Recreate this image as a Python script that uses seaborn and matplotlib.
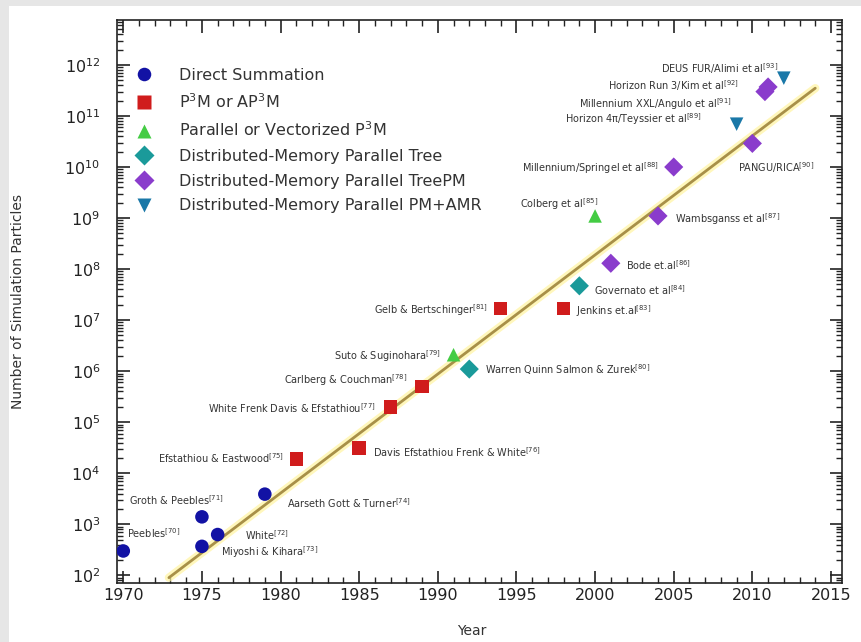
import numpy as np
import pandas as pd
import matplotlib
matplotlib.use("Agg")
import matplotlib.pyplot as plt
import seaborn as sns
from matplotlib.ticker import MultipleLocator, LogLocator
from matplotlib.patches import Rectangle

sns.set_theme(style="ticks")
plt.rcParams['font.family'] = ['DejaVu Sans']

# Data
methods = ["Direct Summation",
           "P$^3$M or AP$^3$M",
           "Parallel or Vectorized P$^3$M",
           "Distributed-Memory Parallel Tree",
           "Distributed-Memory Parallel TreePM",
           "Distributed-Memory Parallel PM+AMR"]

years = [1970, 1975, 1975, 1976, 1979,
         1981, 1985, 1987, 1989, 1994, 1998,
         1991, 2000,
         1992, 1999,
         2001, 2004, 2005, 2010, 2010.8, 2011,
         2009, 2012]

particles = [3.0e2, 1.4e3, 3.7e2, 6.3e2, 3.9e3,
             1.9e4, 3.1e4, 2.0e5, 5.0e5, 1.7e7, 1.7e7,
             2.1e6, 1.1e9,
             1.1e6, 4.7e7,
             1.3e8, 1.1e9, 1.0e10, 2.9e10, 3.0e11, 3.7e11,
             6.9e10, 5.5e11]

method_idx = [0, 0, 0, 0, 0,
              1, 1, 1, 1, 1, 1,
              2, 2,
              3, 3,
              4, 4, 4, 4, 4, 4,
              5, 5]

names = ["Peebles$^{[70]}$",
         "Groth & Peebles$^{[71]}$",
         "Miyoshi & Kihara$^{[73]}$",
         "White$^{[72]}$",
         "Aarseth Gott & Turner$^{[74]}$",
         "Efstathiou & Eastwood$^{[75]}$",
         "Davis Efstathiou Frenk & White$^{[76]}$",
         "White Frenk Davis & Efstathiou$^{[77]}$",
         "Carlberg & Couchman$^{[78]}$",
         "Gelb & Bertschinger$^{[81]}$",
         "Jenkins et.al$^{[83]}$",
         "Suto & Suginohara$^{[79]}$",
         "Colberg et al$^{[85]}$",
         "Warren Quinn Salmon & Zurek$^{[80]}$",
         "Governato et al$^{[84]}$",
         "Bode et.al$^{[86]}$",
         "Wambsganss et al$^{[87]}$",
         "Millennium/Springel et al$^{[88]}$",
         "PANGU/RICA$^{[90]}$",
         "Millennium XXL/Angulo et al$^{[91]}$",
         "Horizon Run 3/Kim et al$^{[92]}$",
         "Horizon 4\u03c0/Teyssier et al$^{[89]}$",
         "DEUS FUR/Alimi et al$^{[93]}$"]

# label offsets (pixels) and alignment
offsets = [(4, 18), (-73, 17), (19, -6), (27, -1), (22, -9),
           (-12, 1), (14, -4), (-15, -1), (-15, 6), (-13, -2), (12, -3),
           (-12, -1), (3, 12),
           (16, -1), (15, -4),
           (15, -2), (17, -3), (-15, -1), (-14, -24), (-33, -12), (-29, 1),
           (-35, 5), (-6, 10)]
aligns = ["left", "left", "left", "left", "left",
          "right", "left", "right", "right", "right", "left",
          "right", "right",
          "left", "left",
          "left", "left", "right", "left", "right", "right",
          "right", "right"]

trend_years = [1972.9, 2014.0]
trend_values = [9.0e1, 3.5e11]

df = pd.DataFrame({"Year": years,
                   "Particles": particles,
                   "Method": [methods[i] for i in method_idx]})

colors = ["#1212a4", "#d01c1c", "#44cc44", "#1a9a9a", "#8a3ccc", "#1a78a8"]
marks = ["o", "s", "^", "D", "D", "v"]
palette = dict(zip(methods, colors))
markers = dict(zip(methods, marks))

fig = plt.figure(figsize=(8.62, 6.42), dpi=100)
fig.patch.set_facecolor("#e6e6e6")
bg = Rectangle((9 / 862, 0), 1, 1 - 6 / 642, transform=fig.transFigure,
               facecolor="white", edgecolor="none", zorder=-10)
fig.add_artist(bg)
ax = fig.add_axes([117 / 862, 1 - 583 / 642, 725 / 862, 563 / 642])
ax.set_facecolor("white")
ax.set_yscale("log")

# trend line with a soft glow
ax.plot(trend_years, trend_values, color="#fff4a0", lw=6, alpha=0.7, zorder=1)
ax.plot(trend_years, trend_values, color="#a89048", lw=2, zorder=2)

sns.scatterplot(data=df, x="Year", y="Particles", hue="Method", style="Method",
                hue_order=methods, style_order=methods,
                palette=palette, markers=markers, s=95, edgecolor="none",
                ax=ax, zorder=3)

for x, y, t, off, ha in zip(years, particles, names, offsets, aligns):
    ax.annotate(t, (x, y), xytext=off, textcoords="offset pixels",
                ha=ha, va="center", fontsize=7, color="#333333")

ax.set_xlim(1969.6, 2015.7)
ax.set_ylim(10 ** 1.85, 10 ** 12.88)
ax.xaxis.set_major_locator(MultipleLocator(5))
ax.xaxis.set_minor_locator(MultipleLocator(1))
ax.yaxis.set_major_locator(LogLocator(base=10, numticks=20))
ax.yaxis.set_minor_locator(LogLocator(base=10, subs=np.arange(2, 10), numticks=20))
ax.tick_params(which="both", direction="in", top=True, right=True, labelsize=11.5,
               colors="#222222")
ax.tick_params(which="major", length=9, width=1.2)
ax.tick_params(which="minor", length=4, width=1)
ax.tick_params(axis="y", which="major", pad=12)
for sp in ax.spines.values():
    sp.set_color("#222222")
    sp.set_linewidth(1.2)

ax.set_xlabel("Year", fontsize=10, color="#333333", va="center")
ax.xaxis.set_label_coords(0.49, -0.085)
ax.set_ylabel("Number of Simulation Particles", fontsize=10, color="#333333", va="center")
ax.yaxis.set_label_coords(-0.136, 0.5)

leg = ax.legend(loc="upper left", bbox_to_anchor=(0.0, 0.935), frameon=False,
                fontsize=11.5, labelspacing=0.6, handletextpad=1.2,
                borderaxespad=0.3, markerscale=1.0)
for t in leg.get_texts():
    t.set_color("#333333")

fig.savefig("out.png", dpi=100, facecolor=fig.get_facecolor())
